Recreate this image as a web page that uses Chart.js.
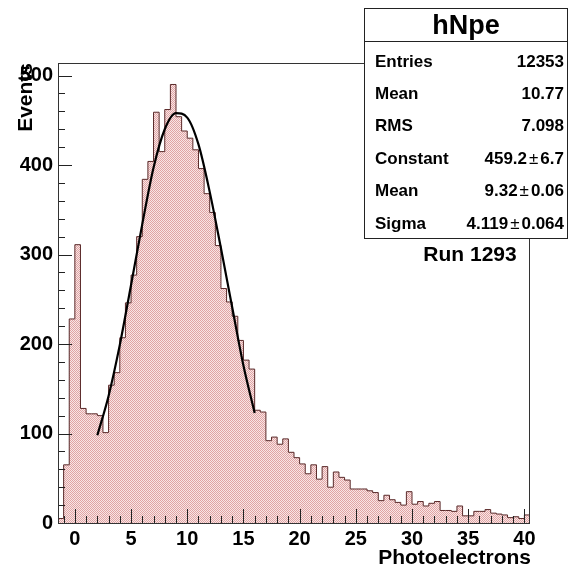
<!DOCTYPE html>
<html>
<head>
<meta charset="utf-8">
<script src="https://cdn.jsdelivr.net/npm/chart.js@4.4.1/dist/chart.umd.min.js"></script>
<style>
  html, body { margin: 0; padding: 0; background: #fff; }
</style>
</head>
<body>
<canvas id="hnpe" width="570" height="573"></canvas>
<script>
// hNpe - photoelectron spectrum, run 1293

const binLow = -1.5;
const binWidth = 0.5;
// counts per 0.5 p.e. bin, from -1.5 up to 40.5
const binCounts = [
    5, 65, 228, 311, 128, 122, 122, 120, 101, 154,
    168, 207, 246, 277, 320, 384, 404, 459, 415, 462,
    490, 454, 438, 430, 417, 396, 368, 347, 310, 262,
    247, 231, 204, 182, 172, 126, 124, 92, 96, 88,
    94, 79, 73, 66, 55, 65, 49, 63, 40, 57,
    51, 48, 38, 38, 38, 36, 34, 25, 31, 26,
    23, 20, 35, 21, 24, 19, 22, 24, 14, 14,
    13, 19, 8, 8, 13, 13, 15, 11, 10, 9,
    6, 7, 5, 9
];

// gaussian fit
const fitX = [2, 3, 4, 5, 6, 7, 8, 9, 10, 11, 12, 13, 14, 15, 16];
const fitY = [98, 142, 199, 266, 334, 397, 440, 458, 453, 423, 370, 307, 241, 176, 123];

const xTicks = [0, 5, 10, 15, 20, 25, 30, 35, 40];
const yTicks = [0, 100, 200, 300, 400, 500];

const statsTitle = 'hNpe';
const statsLabels = ['Entries', 'Mean', 'RMS', 'Constant', 'Mean', 'Sigma'];
const statsValues = ['12353', '10.77', '7.098', '459.2 ± 6.7', '9.32 ± 0.06', '4.119 ± 0.064'];
const runLabel = 'Run 1293';

const FONT = '"Liberation Sans", Arial, sans-serif';
Chart.defaults.font.family = FONT;
Chart.defaults.color = '#000';

// step outline: one point per bin low edge + closing edge
const histPoints = binCounts.map((c, i) => ({ x: binLow + i * binWidth, y: c }));
histPoints.push({ x: binLow + binCounts.length * binWidth, y: binCounts[binCounts.length - 1] });

const fitPoints = fitX.map((x, i) => ({ x: x, y: fitY[i] }));

function makeDotPattern(ctx) {
    const c = document.createElement('canvas');
    c.width = 2; c.height = 2;
    const p = c.getContext('2d');
    p.fillStyle = '#f8e6e6';
    p.fillRect(0, 0, 2, 2);
    p.fillStyle = '#e0a4a4';
    p.fillRect(0, 0, 1, 1);
    p.fillRect(1, 1, 1, 1);
    return ctx.createPattern(c, 'repeat');
}

const frameAndTicks = {
    id: 'frameAndTicks',
    afterDatasetsDraw(chart) {
        const { ctx, chartArea: a, scales: { x, y } } = chart;
        ctx.save();
        ctx.strokeStyle = '#222';
        ctx.lineWidth = 1;
        ctx.beginPath();
        for (let v = Math.ceil(x.min); v <= x.max; v++) {
            const px = Math.round(x.getPixelForValue(v)) + 0.5;
            const len = v % 5 === 0 ? 14 : 7;
            ctx.moveTo(px, a.bottom);
            ctx.lineTo(px, a.bottom - len);
        }
        for (let v = 0; v <= y.max; v += 20) {
            const py = Math.round(y.getPixelForValue(v)) + 0.5;
            const len = v % 100 === 0 ? 14 : 7;
            ctx.moveTo(a.left, py);
            ctx.lineTo(a.left + len, py);
        }
        ctx.stroke();
        ctx.strokeStyle = '#333';
        ctx.strokeRect(Math.round(a.left) + 0.5, Math.round(a.top) + 0.5,
                       Math.round(a.width) - 1, Math.round(a.height));
        ctx.restore();
    },
    afterDraw(chart) {
        const ctx = chart.ctx;
        ctx.save();
        ctx.fillStyle = '#000';

        // axis titles
        ctx.font = 'bold 21px ' + FONT;
        ctx.textAlign = 'right';
        ctx.textBaseline = 'alphabetic';
        ctx.fillText('Photoelectrons', 531, 564);
        ctx.save();
        ctx.translate(32, 63);
        ctx.rotate(-Math.PI / 2);
        ctx.fillText('Events', 0, 0);
        ctx.restore();

        ctx.textAlign = 'center';
        ctx.fillText(runLabel, 470, 261);

        // stats box
        const bx = 364.5, by = 8.5, bw = 203, bh = 230;
        ctx.fillStyle = '#fff';
        ctx.fillRect(bx, by, bw, bh);
        ctx.strokeStyle = '#222';
        ctx.lineWidth = 1;
        ctx.strokeRect(bx, by, bw, bh);
        ctx.beginPath();
        ctx.moveTo(bx, 41.5);
        ctx.lineTo(bx + bw, 41.5);
        ctx.stroke();

        ctx.fillStyle = '#000';
        ctx.font = 'bold 27px ' + FONT;
        ctx.textAlign = 'center';
        ctx.fillText(statsTitle, bx + bw / 2, 34);

        const bold = 'bold 17px ' + FONT;
        const plain = '17px ' + FONT;
        statsLabels.forEach((lab, i) => {
            const base = 66.5 + i * 32.4;
            ctx.font = bold;
            ctx.textAlign = 'left';
            ctx.fillText(lab, 375, base);
            ctx.textAlign = 'right';
            const parts = statsValues[i].split(' ± ');
            let rx = 564;
            if (parts.length === 2) {
                ctx.font = bold;
                ctx.fillText(parts[1], rx, base);
                rx -= ctx.measureText(parts[1]).width + 2;
                ctx.font = plain;
                ctx.fillText('±', rx, base);
                rx -= ctx.measureText('±').width + 2;
                ctx.font = bold;
                ctx.fillText(parts[0], rx, base);
            } else {
                ctx.fillText(parts[0], rx, base);
            }
        });
        ctx.restore();
    }
};

const canvas = document.getElementById('hnpe');
const ctx = canvas.getContext('2d');

new Chart(ctx, {
    type: 'line',
    data: {
        datasets: [
            {
                label: 'fit',
                data: fitPoints,
                borderColor: '#000',
                borderWidth: 2.2,
                pointRadius: 0,
                cubicInterpolationMode: 'monotone',
                fill: false,
                order: 1
            },
            {
                label: 'hNpe',
                data: histPoints,
                stepped: 'before',
                borderColor: '#5a2a2a',
                borderWidth: 1,
                pointRadius: 0,
                backgroundColor: makeDotPattern(ctx),
                fill: 'origin',
                order: 2
            }
        ]
    },
    options: {
        responsive: false,
        animation: false,
        layout: { padding: { top: 63, right: 40, left: 0, bottom: 0 } },
        plugins: {
            legend: { display: false },
            tooltip: { enabled: false }
        },
        scales: {
            x: {
                type: 'linear',
                min: -1.5,
                max: 40.5,
                grid: { display: false, drawTicks: false },
                border: { display: false },
                afterBuildTicks: (axis) => { axis.ticks = xTicks.map(v => ({ value: v })); },
                afterFit: (axis) => { axis.height = 50; },
                ticks: {
                    autoSkip: false,
                    maxRotation: 0,
                    padding: 4,
                    font: { size: 20, weight: 'bold' }
                }
            },
            y: {
                type: 'linear',
                min: 0,
                max: 514,
                grid: { display: false, drawTicks: false },
                border: { display: false },
                afterBuildTicks: (axis) => { axis.ticks = yTicks.map(v => ({ value: v })); },
                afterFit: (axis) => { axis.width = 58; },
                ticks: {
                    padding: 5,
                    font: { size: 20, weight: 'bold' }
                }
            }
        }
    },
    plugins: [frameAndTicks]
});
</script>
</body>
</html>
